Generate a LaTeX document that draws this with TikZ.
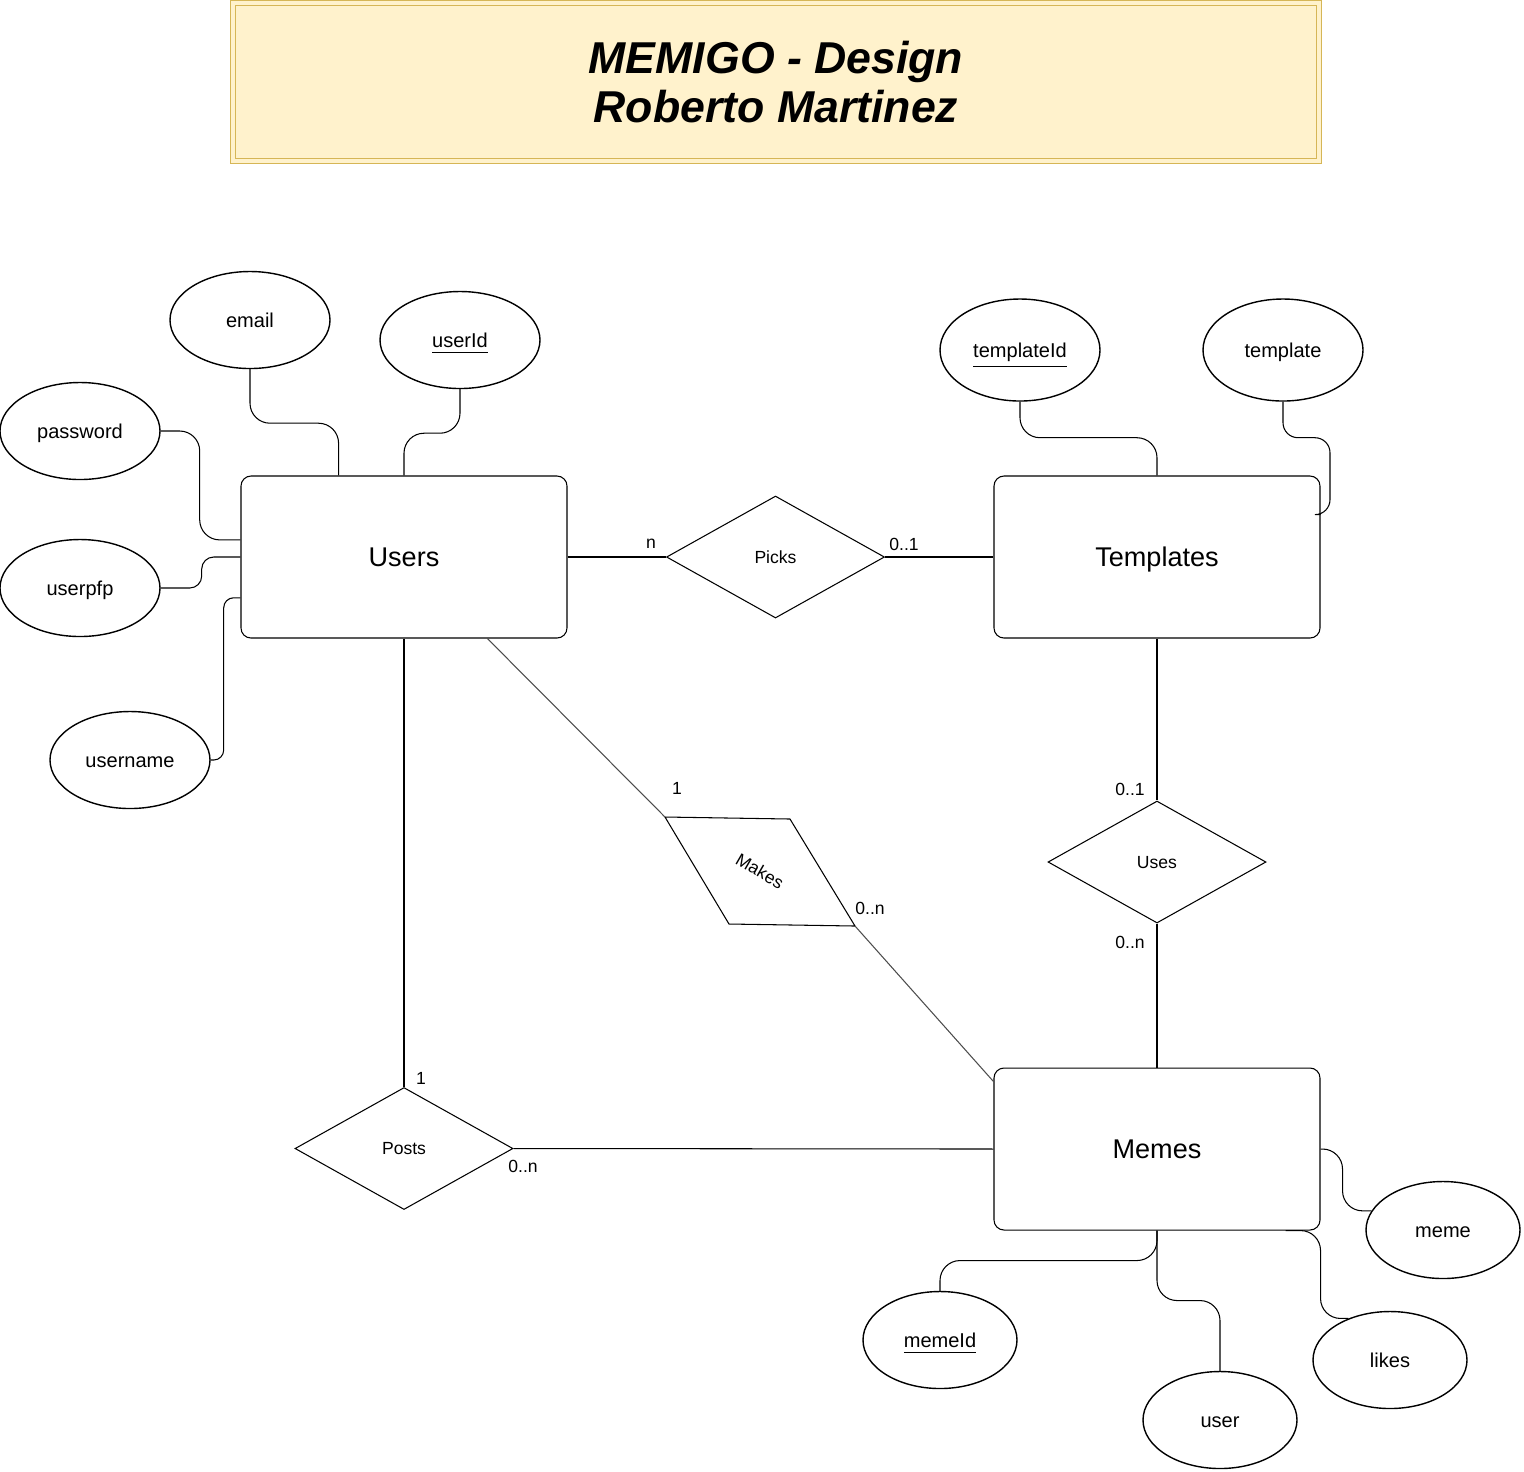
\documentclass[tikz,border=0pt]{standalone}
\usepackage{fontspec}
\setmainfont{Liberation Sans}
\newfontfamily\titlefont{Liberation Sans}
\usetikzlibrary{calc,shapes.geometric}
\definecolor{notefill}{HTML}{FFF2CC}
\definecolor{noteline}{HTML}{D6B656}
\newcommand{\keyattr}[1]{\raisebox{0pt}[\height][0pt]{\underline{#1}}}
\tikzset{
  entity/.style={draw, rounded corners=0.1cm, minimum width=3.26cm, minimum height=1.62cm, inner sep=0pt, text height=5.5pt, text depth=0pt, font=\fontsize{7.7}{9}\selectfont},
  relation/.style={draw, diamond, minimum width=2.18cm, minimum height=1.22cm, inner sep=0pt, text height=3.6pt, text depth=0pt, font=\fontsize{5}{6}\selectfont},
  attrib/.style={draw, ellipse, minimum width=1.6cm, minimum height=0.97cm, inner sep=0pt, line width=0.4pt, text height=4.1pt, text depth=0pt, font=\fontsize{5.7}{7}\selectfont},
  card/.style={inner sep=0pt, font=\fontsize{5}{6}\selectfont},
  attrlink/.style={rounded corners=0.2cm},
  rellink/.style={black!70}
}
\begin{document}
\begin{tikzpicture}[line width=0.3pt]
\useasboundingbox (0,0) rectangle (15.24,-14.71);
% title
\node[draw=noteline, double=notefill, double distance=0.035cm, fill=notefill, minimum width=10.86cm, minimum height=1.58cm, align=center, font=\titlefont\bfseries\itshape\fontsize{12.7}{14.2}\selectfont] (title) at (7.76,-0.82) {MEMIGO - Design\\Roberto Martinez};
% entities
\node[entity] (users) at (4.04,-5.57) {Users};
\node[entity] (templates) at (11.57,-5.57) {Templates};
\node[entity] (memes) at (11.57,-11.49) {Memes};
% relationships
\node[relation] (picks) at (7.755,-5.57) {Picks};
\node[relation] (uses) at (11.57,-8.62) {Uses};
\node[relation] (posts) at (4.04,-11.485) {Posts};
\node[inner sep=0pt, rotate=-30, font=\fontsize{5}{6}\selectfont] (makes) at (7.6,-8.71) {Makes};
\coordinate (makes-a) at ($(makes)+(-0.95,0.54)$);
\coordinate (makes-b) at ($(makes)+(0.30,0.52)$);
\coordinate (makes-c) at ($(makes)+(0.95,-0.55)$);
\coordinate (makes-d) at ($(makes)+(-0.31,-0.53)$);
\draw (makes-a) -- (makes-b) -- (makes-c) -- (makes-d) -- cycle;
% attributes
\node[attrib] (email) at (2.50,-3.20) {email};
\node[attrib] (userId) at (4.60,-3.40) {\keyattr{userId}};
\node[attrib] (password) at (0.80,-4.31) {password};
\node[attrib] (userpfp) at (0.80,-5.88) {userpfp};
\node[attrib] (username) at (1.30,-7.60) {username};
\node[attrib, minimum height=1.02cm] (templateId) at (10.20,-3.50) {\keyattr{templateId}};
\node[attrib, minimum height=1.02cm] (template) at (12.83,-3.50) {template};
\node[attrib, minimum width=1.54cm] (meme) at (14.43,-12.30) {meme};
\node[attrib, minimum width=1.54cm] (memeId) at (9.40,-13.40) {\keyattr{memeId}};
\node[attrib, minimum width=1.54cm] (user) at (12.20,-14.20) {user};
\node[attrib, minimum width=1.54cm] (likes) at (13.90,-13.60) {likes};
% attribute links
\draw[attrlink] (email.south) -- ++(0,-0.54) -| ($(users.north west)!0.30!(users.north east)$);
\draw[attrlink] (userId.south) -- ++(0,-0.44) -| (users.north);
\draw[attrlink] (password.east) -- ++(0.39,0) |- ($(users.north west)!0.395!(users.south west)$);
\draw[attrlink, rounded corners=0.12cm] (userpfp.east) -- ++(0.41,0) |- (users.west);
\draw[attrlink, rounded corners=0.1cm] (username.east) -- ++(0.13,0) |- ($(users.north west)!0.75!(users.south west)$);
\draw[attrlink] (templateId.south) -- ++(0,-0.36) -| (templates.north);
\draw[attrlink, rounded corners=0.15cm] (template.south) -- ++(0,-0.36) -- ++(0.47,0) |- ($(templates.north east)!0.24!(templates.south east)$);
\draw[attrlink] (memes.east) -- ++(0.22,0) |- (meme.165);
\draw[attrlink] (memes.south) -- ++(0,-0.30) -| (memeId.north);
\draw[attrlink] (memes.south) -- ++(0,-0.70) -| (user.north);
\draw[attrlink] ($(memes.south west)!0.893!(memes.south east)$) -- ++(0.35,0) |- (likes.135);
% relationship links
\draw (users.east) -- (picks.west);
\draw (picks.east) -- (templates.west);
\draw (templates.south) -- (uses.north);
\draw (uses.south) -- (memes.north);
\draw (users.south) -- (posts.north);
\draw (posts.east) -- (memes.west);
\draw[rellink] ($(users.south west)!0.755!(users.south east)$) -- (makes-a);
\draw[rellink] (makes-c) -- ($(memes.north west)!0.086!(memes.south west)$);
% cardinalities
\node[card] (c-picks-n) at (6.51,-5.44) {n};
\node[card] (c-picks-01) at (9.04,-5.44) {0..1};
\node[card] (c-uses-01) at (11.30,-7.89) {0..1};
\node[card] (c-uses-0n) at (11.30,-9.42) {0..n};
\node[card] (c-makes-1) at (6.77,-7.88) {1};
\node[card] (c-makes-0n) at (8.70,-9.08) {0..n};
\node[card] (c-posts-1) at (4.21,-10.78) {1};
\node[card] (c-posts-0n) at (5.23,-11.66) {0..n};
\end{tikzpicture}
\end{document}
